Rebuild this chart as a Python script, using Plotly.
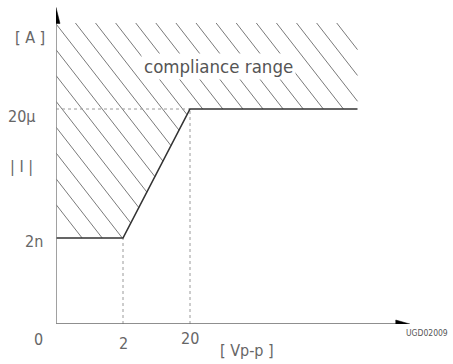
import numpy as np
import plotly.graph_objects as go

# ---- data (schematic units: x ticks 0,2,20 at positions 0,1,2 ; y ticks 2n,20µ at 1,2.5) ----
x_tick_pos = [0, 1, 2]
x_tick_text = ["0", "2", "20"]
y_tick_pos = [1, 2.5]
y_tick_text = ["2n", "20µ"]
curve_x = [0, 1, 2, 4.5]
curve_y = [1, 1, 2.5, 2.5]
range_top = 3.5          # top of compliance (hatched) range
hatch_step = 0.3
hatch_phase = 3.49

FONT = "DejaVu Sans Condensed, Liberation Sans, Arial, sans-serif"
TXT = "#666666"

fig = go.Figure()

# hatch lines (x + y = c), clipped to region above the curve
cx = np.array(curve_x, float)
cy = np.array(curve_y, float)
g = cx + cy
hx, hy = [], []
for k in range(-10, 20):
    c = hatch_phase + hatch_step * k
    if c <= g[0]:
        continue
    xs = max(cx[0], c - range_top)
    xe = cx[-1] if c >= g[-1] else float(np.interp(c, g, cx))
    if xe - xs > 0.12:
        hx += [xs, xe, None]
        hy += [c - xs, c - xe, None]
fig.add_trace(go.Scatter(x=hx, y=hy, mode="lines",
                         line=dict(color="#7a7a7a", width=1), hoverinfo="skip"))

# dotted guide lines
fig.add_trace(go.Scatter(x=[0, x_tick_pos[2]], y=[y_tick_pos[1], y_tick_pos[1]], mode="lines",
                         line=dict(color="#9a9a9a", width=1, dash="dot"), hoverinfo="skip"))
for xp, yp in [(x_tick_pos[1], y_tick_pos[0]), (x_tick_pos[2], y_tick_pos[1])]:
    fig.add_trace(go.Scatter(x=[xp, xp], y=[0, yp], mode="lines",
                             line=dict(color="#9a9a9a", width=1, dash="dot"), hoverinfo="skip"))

# main curve
fig.add_trace(go.Scatter(x=curve_x, y=curve_y, mode="lines",
                         line=dict(color="#333333", width=1.6), hoverinfo="skip"))

# axes lines
x_end = 5.28
y_end = 3.68
fig.add_shape(type="line", x0=0, y0=0, x1=x_end - 0.15, y1=0, line=dict(color="#6a6a6a", width=1.6))
fig.add_shape(type="line", x0=0, y0=0, x1=0, y1=y_end - 0.15, line=dict(color="#8a8a8a", width=1.6))
# arrowheads (pixel sized)
fig.add_shape(type="path", xref="x", yref="y", xsizemode="pixel", ysizemode="pixel",
              xanchor=x_end, yanchor=0, path="M 0,0 L -14,4 L -14,-4 Z",
              fillcolor="black", line=dict(color="black", width=0.5))
fig.add_shape(type="path", xref="x", yref="y", xsizemode="pixel", ysizemode="pixel",
              xanchor=0, yanchor=y_end, path="M 0,0 L -4,-16 L 4,-16 Z",
              fillcolor="black", line=dict(color="black", width=0.5))

ann = []
def add(text, x, y, size=16, xs=0, ys=0, xa="center", ya="middle", color=TXT, bg=None):
    d = dict(text=text, x=x, y=y, xref="x", yref="y", showarrow=False,
             xshift=xs, yshift=ys, xanchor=xa, yanchor=ya,
             font=dict(family=FONT, size=size, color=color))
    if bg:
        d.update(bgcolor=bg, borderpad=2)
    ann.append(d)

# x tick labels
add(x_tick_text[0], x_tick_pos[0], 0, xs=-18, ys=-15)
add(x_tick_text[1], x_tick_pos[1], 0, ys=-19)
add(x_tick_text[2], x_tick_pos[2], 0, ys=-14)
# y tick labels
add(y_tick_text[0], 0, y_tick_pos[0], xa="right", xs=-11, ys=-3)
add(y_tick_text[1], 0, y_tick_pos[1], xa="right", xs=-19, ys=-7)
# axis titles
add("[ A ]", 0, 3.33, xs=-26)
add("| I |", 0, 1.83, xs=-35)
add("[ Vp-p ]", 2.85, 0, ys=-26)
add("compliance range", 2.42, 3.0, size=18.5, color="#555555", bg="white")
add("UGD02009", 5.2, 0, size=8.5, xa="left", ys=-9, color="#555555")
fig.update_layout(annotations=ann)

W, H = 453, 364
ml, mr, mt, mb = 56, 33, 4, 40
fig.update_layout(
    width=W, height=H, margin=dict(l=ml, r=mr, t=mt, b=mb),
    paper_bgcolor="white", plot_bgcolor="white", showlegend=False,
    xaxis=dict(visible=False, range=[0, (W - ml - mr) / 67.0], fixedrange=True),
    yaxis=dict(visible=False, range=[0, (H - mt - mb) / 86.0], fixedrange=True),
)
fig.write_html("out.html", config={"displayModeBar": False},
               post_script="document.body.style.margin='0';document.body.style.overflow='hidden';")
